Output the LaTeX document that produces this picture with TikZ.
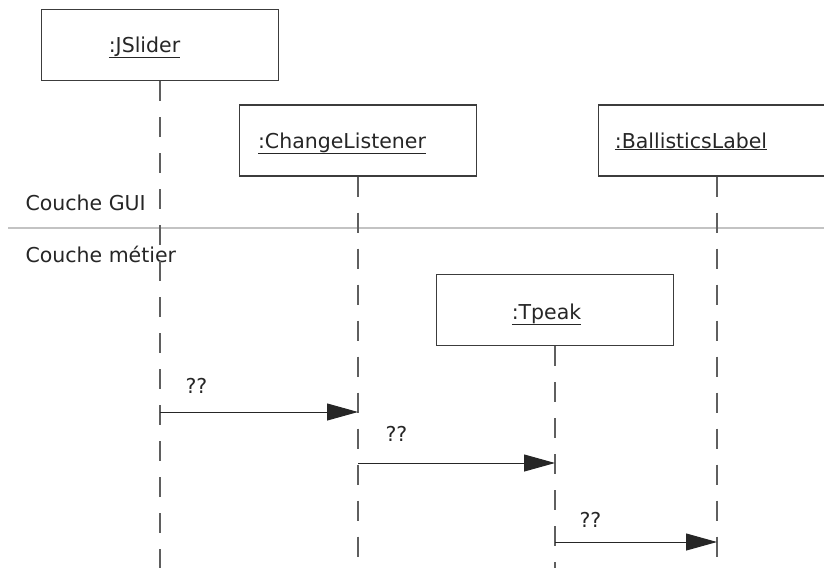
\documentclass[tikz,border=0pt]{standalone}
\usepackage{fontspec}
\setmainfont{DejaVu Sans}
\usetikzlibrary{arrows.meta,calc}
\definecolor{BoxGrey}{RGB}{60,60,60}
\definecolor{LifeGrey}{RGB}{95,95,95}
\definecolor{LayerGrey}{RGB}{195,195,195}

\begin{document}
\begin{tikzpicture}[x=1pt,y=-1pt,>={Triangle[length=31pt,width=17pt]},line cap=butt,
  obj/.style={draw=BoxGrey,line width=1.3pt,minimum width=237pt,minimum height=71pt,inner sep=0pt},
  objname/.style={anchor=base,font=\fontsize{20.5}{24}\selectfont,text=black!85},
  layer/.style={anchor=base west,font=\fontsize{20.5}{24}\selectfont,text=black!85},
  life/.style={draw=LifeGrey,line width=1.4pt,dash pattern=on 20pt off 16pt},
  msg/.style={->,line width=1pt,draw=black!85},
  msgname/.style={anchor=base west,font=\fontsize{20.5}{24}\selectfont,text=black!85}]
\useasboundingbox (0,0) rectangle (824,568);
\clip (0,0) rectangle (824,568);
% layers
\coordinate (sepL) at (8,228); \coordinate (sepR) at (824,228);
\draw[draw=LayerGrey,line width=1.5pt] (sepL)--(sepR);
\node[layer] (gui) at (22,210) {Couche GUI};
\node[layer] (metier) at (22,262) {Couche métier};
% objects
\node[obj] (slider) at (160,45) {};
\node[obj] (listener) at (358,140.5) {};
\node[obj] (ballistics) at (717,140.5) {};
\node[obj] (tpeak) at (555,310) {};
\node[objname] (sliderlbl) at ([xshift=-15.5pt,yshift=-7pt]slider.center) {\underline{:JSlider}};
\node[objname] (listenerlbl) at ([xshift=-16pt,yshift=-7.5pt]listener.center) {\underline{:ChangeListener}};
\node[objname] (ballisticslbl) at ([xshift=-26pt,yshift=-7.5pt]ballistics.center) {\underline{:BallisticsLabel}};
\node[objname] (tpeaklbl) at ([xshift=-8.5pt,yshift=-9pt]tpeak.center) {\underline{:Tpeak}};
% lifelines
\coordinate (sliderend) at (160,568); \coordinate (listenerend) at (358,568);
\coordinate (ballisticsend) at (717,568); \coordinate (tpeakend) at (555,568);
\draw[life] (slider.south)--(sliderend);
\draw[life] (listener.south)--(listenerend);
\draw[life] (ballistics.south)--(ballisticsend);
\draw[life] (tpeak.south)--(tpeakend);
% messages
\coordinate (m1a) at (160,412); \coordinate (m1b) at (358,412);
\coordinate (m2a) at (358,463); \coordinate (m2b) at (555,463);
\coordinate (m3a) at (555,542); \coordinate (m3b) at (717,542);
\draw[msg] (m1a)--(m1b);
\draw[msg] (m2a)--(m2b);
\draw[msg] (m3a)--(m3b);
\node[msgname] (m1lbl) at (182,393) {??};
\node[msgname] (m2lbl) at (382,441) {??};
\node[msgname] (m3lbl) at (576,527) {??};
\end{tikzpicture}
\end{document}
